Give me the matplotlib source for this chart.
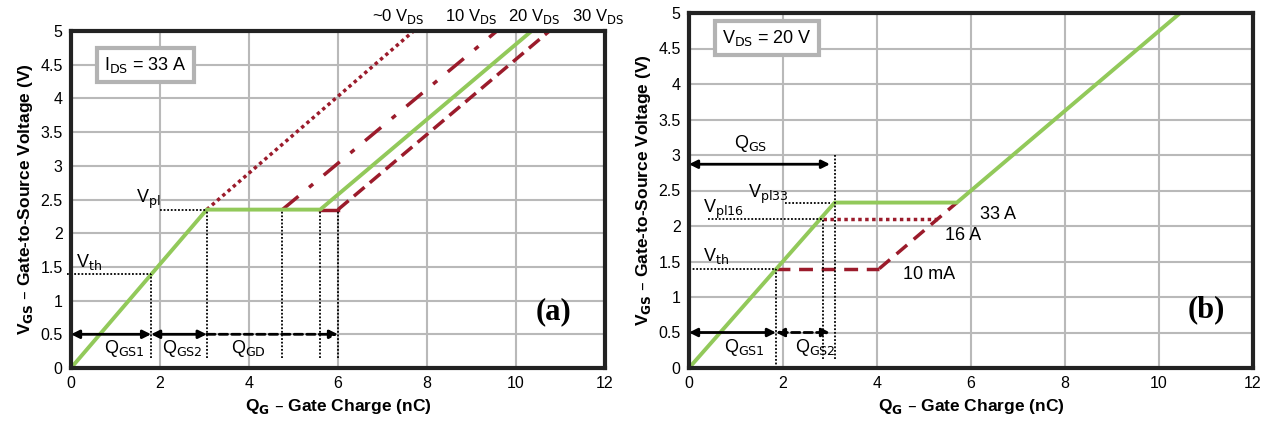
import numpy as np
import matplotlib.pyplot as plt

# ---- panel (a) data: I_DS = 33 A, different V_DS ----
green_a_q = [0.0, 3.05, 5.6, 10.35]
green_a_v = [0.0, 2.35, 2.35, 5.0]
vds0_q = [3.05, 7.7]
vds0_v = [2.35, 5.0]
vds10_q = [4.75, 9.57]
vds10_v = [2.35, 5.0]
vds30_flat_q = [5.6, 6.0]
vds30_flat_v = [2.35, 2.35]
vds30_q = [6.0, 10.75]
vds30_v = [2.35, 5.0]
vth_a = 1.4
vpl_a = 2.35
q_marks_a = [1.8, 3.05, 4.75, 5.6, 6.0]
top_labels = ["~0 V$_{\\mathrm{DS}}$", "10 V$_{\\mathrm{DS}}$", "20 V$_{\\mathrm{DS}}$", "30 V$_{\\mathrm{DS}}$"]
top_label_x = [7.35, 9.0, 10.4, 11.85]

# ---- panel (b) data: V_DS = 20 V, different I_DS ----
green_b_q = [0.0, 3.1, 5.7, 10.45]
green_b_v = [0.0, 2.33, 2.33, 5.0]
i16_q = [2.85, 5.3]
i16_v = [2.1, 2.1]
i10m_flat_q = [1.85, 4.05]
i10m_flat_v = [1.4, 1.4]
i10m_q = [4.05, 5.7]
i10m_v = [1.4, 2.33]

GREEN = "#92c95a"
RED = "#9b1b2b"
GRID = "#b9b9b9"

plt.rcParams['font.family'] = ['Liberation Sans', 'DejaVu Sans']

fig = plt.figure(figsize=(12.71, 4.26), dpi=100)
ax1 = fig.add_axes([71 / 1271, 1 - 368 / 426, (605 - 71) / 1271, (368 - 31) / 426])
ax2 = fig.add_axes([689 / 1271, 1 - 368 / 426, (1253 - 689) / 1271, (368 - 13) / 426])


def setup(ax):
    ax.set_xlim(0, 12)
    ax.set_ylim(0, 5)
    ax.set_xticks(np.arange(0, 13, 2))
    ax.set_yticks(np.arange(0, 5.01, 0.5))
    ax.set_yticklabels(["0", "0.5", "1", "1.5", "2", "2.5", "3", "3.5", "4", "4.5", "5"])
    ax.grid(True, color=GRID, lw=1.5)
    ax.set_axisbelow(True)
    ax.tick_params(length=0, labelsize=11.5, pad=6)
    for s in ax.spines.values():
        s.set_linewidth(3)
        s.set_color("#222222")
    ax.set_ylabel("V$_{\\mathbf{GS}}$ – Gate-to-Source Voltage (V)", fontsize=12.5, fontweight="bold")
    ax.set_xlabel("Q$_{\\mathbf{G}}$ – Gate Charge (nC)", fontsize=12.5, fontweight="bold")


def arrow(ax, x0, x1, y, ls="-", both=True):
    style = "<|-|>" if both else "-|>"
    ax.annotate("", xy=(x1, y), xytext=(x0, y),
                arrowprops=dict(arrowstyle=style, lw=2, color="black", ls=ls,
                                mutation_scale=12, shrinkA=0, shrinkB=0))


dot = dict(color="black", lw=1.3, ls=(0, (1, 1)))
FS = 13

# ---------------- panel (a) ----------------
setup(ax1)
ax1.plot(vds0_q, vds0_v, color=RED, lw=2.5, ls=(0, (1, 1)))
ax1.plot(vds10_q, vds10_v, color=RED, lw=2.5, ls=(0, (6, 4, 1.5, 4)))
ax1.plot(vds30_flat_q, vds30_flat_v, color=RED, lw=2.5)
ax1.plot(vds30_q, vds30_v, color=RED, lw=2.5, ls=(0, (4, 2)))
ax1.plot(green_a_q, green_a_v, color=GREEN, lw=2.8)

ax1.plot([-0.1, q_marks_a[0]], [vth_a, vth_a], clip_on=False, **dot)
ax1.plot([2.0, q_marks_a[1]], [vpl_a, vpl_a], **dot)
for q in q_marks_a:
    v = vth_a if q == q_marks_a[0] else vpl_a
    ax1.plot([q, q], [0.15, v], **dot)
ax1.text(0.12, 1.5, "V$_{\\mathrm{th}}$", fontsize=FS)
ax1.text(1.45, 2.45, "V$_{\\mathrm{pl}}$", fontsize=FS)

arrow(ax1, 0, 1.8, 0.5)
arrow(ax1, 1.8, 3.05, 0.5)
arrow(ax1, 3.05, 6.0, 0.5, ls=(0, (3, 1.5)), both=False)
ax1.text(0.75, 0.22, "Q$_{\\mathrm{GS1}}$", fontsize=FS)
ax1.text(2.05, 0.22, "Q$_{\\mathrm{GS2}}$", fontsize=FS)
ax1.text(3.6, 0.22, "Q$_{\\mathrm{GD}}$", fontsize=FS)
ax1.text(10.85, 0.72, "(a)", fontsize=22, fontweight="bold", ha="center",
         family=["Liberation Serif", "DejaVu Serif"])
ax1.text(0.75, 4.42, "I$_{\\mathrm{DS}}$ = 33 A", fontsize=FS,
         bbox=dict(boxstyle="square,pad=0.4", fc="white", ec="#b3b3b3", lw=3))
for lab, x in zip(top_labels, top_label_x):
    ax1.text(x, 5.08, lab, fontsize=12, ha="center", va="bottom")

# ---------------- panel (b) ----------------
setup(ax2)
ax2.plot(i16_q, i16_v, color=RED, lw=2.5, ls=(0, (1, 1)))
ax2.plot(i10m_flat_q, i10m_flat_v, color=RED, lw=2.5, ls=(0, (4, 2.5)))
ax2.plot(i10m_q, i10m_v, color=RED, lw=2.5, ls=(0, (4, 2.5)))
ax2.plot(green_b_q, green_b_v, color=GREEN, lw=2.8)

ax2.plot([0, 1.85], [1.4, 1.4], **dot)
ax2.plot([0.4, 2.85], [2.1, 2.1], **dot)
ax2.plot([2.05, 3.0], [2.33, 2.33], **dot)
ax2.plot([1.85, 1.85], [0, 1.4], **dot)
ax2.plot([2.85, 2.85], [0.12, 2.1], **dot)
ax2.plot([3.1, 3.1], [0.12, 3.0], **dot)
ax2.text(0.3, 1.5, "V$_{\\mathrm{th}}$", fontsize=FS)
ax2.text(0.3, 2.18, "V$_{\\mathrm{pl16}}$", fontsize=FS)
ax2.text(1.25, 2.4, "V$_{\\mathrm{pl33}}$", fontsize=FS)
ax2.text(6.2, 2.1, "33 A", fontsize=FS)
ax2.text(5.45, 1.8, "16 A", fontsize=FS)
ax2.text(4.55, 1.25, "10 mA", fontsize=FS)

arrow(ax2, 0, 3.0, 2.87)
arrow(ax2, 0, 1.85, 0.5)
arrow(ax2, 1.85, 3.0, 0.5, ls=(0, (3, 1.5)))
ax2.text(0.95, 3.1, "Q$_{\\mathrm{GS}}$", fontsize=FS)
ax2.text(0.75, 0.22, "Q$_{\\mathrm{GS1}}$", fontsize=FS)
ax2.text(2.25, 0.22, "Q$_{\\mathrm{GS2}}$", fontsize=FS)
ax2.text(11.0, 0.72, "(b)", fontsize=22, fontweight="bold", ha="center",
         family=["Liberation Serif", "DejaVu Serif"])
ax2.text(0.7, 4.58, "V$_{\\mathrm{DS}}$ = 20 V", fontsize=FS,
         bbox=dict(boxstyle="square,pad=0.4", fc="white", ec="#b3b3b3", lw=3))

fig.savefig("out.png", dpi=100)
